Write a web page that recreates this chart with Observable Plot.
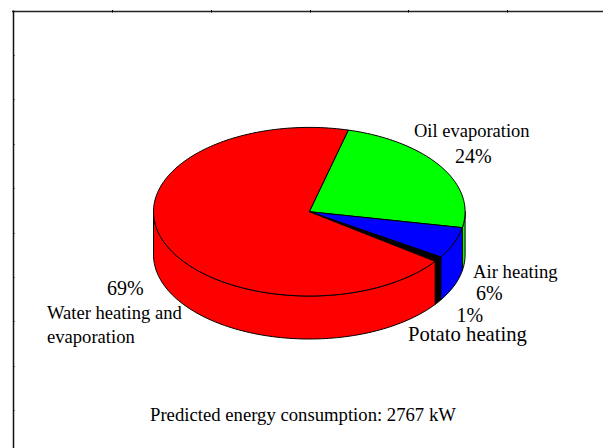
<!DOCTYPE html>
<html>
<head>
<meta charset="utf-8">
<script src="https://cdn.jsdelivr.net/npm/d3@7"></script>
<script src="https://cdn.jsdelivr.net/npm/@observablehq/plot@0.6"></script>
<style>
html,body{margin:0;padding:0;background:#fff;overflow:hidden}
svg{display:block}
</style>
</head>
<body>
<div id="chart"></div>
<script>
// Data
const sliceNames = ["Oil evaporation", "Air heating", "Potato heating", "Water heating and evaporation"];
const sliceShares = [24, 6, 1, 69];
const totalLabel = "Predicted energy consumption: 2767 kW";

// Styling and layout (separate from data)
const sliceColors = ["#00ff00", "#0000ff", "#000000", "#ff0000"];
const W = 603, H = 448;
const pie = {cx: 308.8, cy: 211.2, rx: 155.8, ry: 84.3, depth: 43, start: 75.5};
const labels = [
  {text: "Oil evaporation", x: 413.5, y: 136, size: 18.5},
  {text: "24%", x: 454.5, y: 162, size: 20},
  {text: "Air heating", x: 472.5, y: 277, size: 18.7},
  {text: "6%", x: 475.5, y: 299, size: 20},
  {text: "1%", x: 456, y: 321, size: 20},
  {text: "Potato heating", x: 407.5, y: 340, size: 20.7},
  {text: "69%", x: 106.5, y: 294, size: 20},
  {text: "Water heating and", x: 46.5, y: 318, size: 18.6},
  {text: "evaporation", x: 46.5, y: 342, size: 18.6},
  {text: totalLabel, x: 149.5, y: 420, size: 18.7}
];
const frameTicksX = [112, 211, 310, 408, 507];
const frameTicksY = [55, 99, 144, 188, 233, 277, 321, 366, 410];

// Pie geometry derived from the shares
const pt = (deg, drop = 0) => ({
  x: pie.cx + pie.rx * Math.cos(deg * Math.PI / 180),
  y: pie.cy - pie.ry * Math.sin(deg * Math.PI / 180) + drop
});
const arc = (a0, a1, drop = 0) => {
  const n = Math.max(2, Math.ceil(Math.abs(a1 - a0) / 1.5));
  return d3.range(n + 1).map(i => pt(a0 + (a1 - a0) * i / n, drop));
};
let acc = pie.start;
const slices = sliceNames.map((name, i) => {
  const a0 = acc, a1 = acc - sliceShares[i] * 3.6;
  acc = a1;
  return {name, a0, a1, color: sliceColors[i]};
});
const tops = slices.map(s => ({...s, pts: [{x: pie.cx, y: pie.cy}, ...arc(s.a0, s.a1), {x: pie.cx, y: pie.cy}]}));
// the visible wall is the part of each slice on the front half (0 to -180 degrees)
const walls = slices.flatMap(s => {
  const parts = [];
  for (const [lo, hi] of [[-180, 0], [-540, -360]]) {
    const a0 = Math.min(s.a0, hi), a1 = Math.max(s.a1, lo);
    if (a0 > a1) parts.push({...s, pts: [...arc(a0, a1), ...arc(a1, a0, pie.depth), pt(a0)]});
  }
  return parts;
});
const polyMark = (p) => Plot.line(p.pts, {
  x: "x", y: "y", fill: p.color, stroke: "#000", strokeWidth: 1,
  curve: "linear", strokeLinejoin: "round"
});

const plot = Plot.plot({
  width: W, height: H,
  margin: 0,
  style: {background: "#fff"},
  x: {domain: [0, W], range: [0, W], axis: null},
  y: {domain: [0, H], range: [0, H], axis: null},
  marks: [
    Plot.ruleY([11], {x1: 12, x2: W, stroke: "#222", strokeWidth: 1.5}),
    Plot.ruleX([13], {y1: 10.5, y2: H, stroke: "#111", strokeWidth: 1.5}),
    Plot.ruleX(frameTicksX, {y1: 10, y2: 12.5, stroke: "#000", strokeWidth: 1}),
    Plot.ruleY(frameTicksY, {x1: 13, x2: 14.5, stroke: "#000", strokeWidth: 1}),
    ...walls.map(polyMark),
    ...tops.map(polyMark),
    ...d3.groups(labels, d => d.size).map(([size, rows]) =>
      Plot.text(rows, {
        x: "x", y: "y", text: "text", textAnchor: "start", lineAnchor: "bottom",
        fontFamily: "Liberation Serif", fontSize: size, fill: "#000"
      }))
  ]
});
document.getElementById("chart").append(plot);
</script>
</body>
</html>
